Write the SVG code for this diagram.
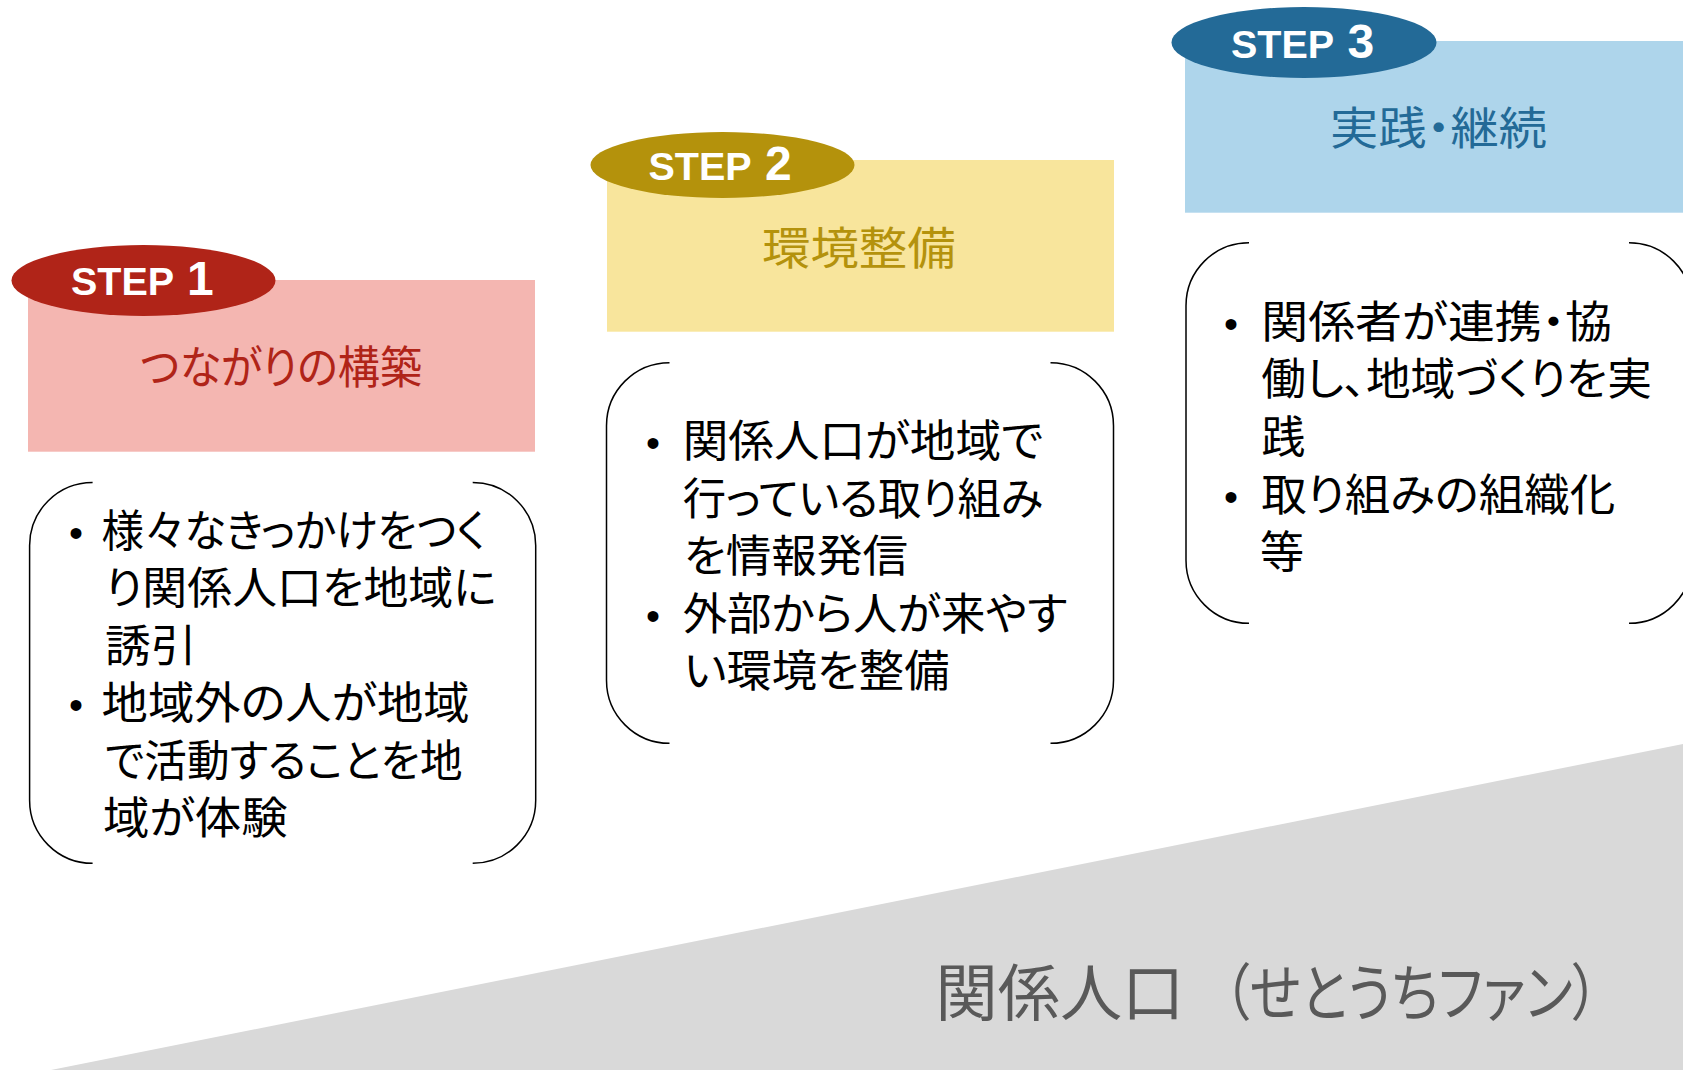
<svg xmlns="http://www.w3.org/2000/svg" width="1683" height="1070" viewBox="0 0 1683 1070">
<style>
.step{font-family:"Liberation Sans",Arial,sans-serif;font-weight:bold;font-size:39.5px;fill:#fff}
.num{font-size:48px}
.sub{font-family:"Noto Sans CJK JP",sans-serif;font-size:45px;font-feature-settings:"palt"}
.body{font-family:"Noto Sans CJK JP",sans-serif;font-size:44px;fill:#000;font-feature-settings:"palt"}
.bul{font-family:"Liberation Sans",sans-serif;font-size:40px;fill:#000;text-anchor:middle}
.br{fill:none;stroke:#000;stroke-width:1.5}
.base{font-family:"Noto Sans CJK JP",sans-serif;font-size:62px;fill:#595959;font-feature-settings:"palt"}
</style>
<rect width="1683" height="1070" fill="#fff"/>
<g id="base">
<polygon points="51,1070 1683,744 1683,1070" fill="#D9D9D9"/>
<text class="base" x="935.6" y="1016" textLength="248.7" lengthAdjust="spacingAndGlyphs">関係人口</text>
<text class="base" x="1223" y="1016" textLength="376" lengthAdjust="spacingAndGlyphs">（せとうちファン）</text>
</g>
<g id="step1">
<rect x="28" y="280" width="507" height="171.7" fill="#F4B6B1"/>
<ellipse cx="143.5" cy="280.5" rx="132" ry="35.5" fill="#B02418"/>
<text class="step" x="71" y="295">STEP<tspan class="num" x="187">1</tspan></text>
<text class="sub" x="140" y="383.5" fill="#B02418" textLength="282" lengthAdjust="spacingAndGlyphs">つながりの構築</text>
</g>
<g id="step2">
<rect x="607" y="160" width="507" height="171.7" fill="#F8E59C"/>
<ellipse cx="722.5" cy="165" rx="132" ry="33" fill="#B4920C"/>
<text class="step" x="648.5" y="180">STEP<tspan class="num" x="765">2</tspan></text>
<text class="sub" x="762" y="265" fill="#B4920C" textLength="193.7" lengthAdjust="spacingAndGlyphs">環境整備</text>
</g>
<g id="step3">
<rect x="1185" y="41" width="507" height="171.7" fill="#AED5EB"/>
<ellipse cx="1304" cy="42.5" rx="132.5" ry="35.5" fill="#236A97"/>
<text class="step" x="1231" y="58">STEP<tspan class="num" x="1347.5">3</tspan></text>
<text class="sub" x="1330" y="145" fill="#236A97" textLength="217" lengthAdjust="spacingAndGlyphs">実践・継続</text>
</g>
<g id="box1">
<path class="br" d="M92.6,482.5 A63,63 0 0 0 29.6,545.5 L29.6,800.3 A63,63 0 0 0 92.6,863.3"/>
<path class="br" d="M472.7,482.5 A63,63 0 0 1 535.7,545.5 L535.7,800.3 A63,63 0 0 1 472.7,863.3"/>
<text class="bul" x="76" y="546.5">•</text>
<text class="bul" x="76" y="719">•</text>
<text class="body" x="101.6" y="546.5" textLength="384.2" lengthAdjust="spacingAndGlyphs">様々なきっかけをつく</text>
<text class="body" x="105" y="604" textLength="391.5" lengthAdjust="spacingAndGlyphs">り関係人口を地域に</text>
<text class="body" x="105" y="661.5" textLength="91.6" lengthAdjust="spacingAndGlyphs">誘引</text>
<text class="body" x="101.6" y="719" textLength="368.1" lengthAdjust="spacingAndGlyphs">地域外の人が地域</text>
<text class="body" x="105" y="776.5" textLength="357.5" lengthAdjust="spacingAndGlyphs">で活動することを地</text>
<text class="body" x="103" y="834" textLength="184.6" lengthAdjust="spacingAndGlyphs">域が体験</text>
</g>
<g id="box2">
<path class="br" d="M669.5,362.7 A63,63 0 0 0 606.5,425.7 L606.5,680.3 A63,63 0 0 0 669.5,743.3"/>
<path class="br" d="M1050.5,362.7 A63,63 0 0 1 1113.5,425.7 L1113.5,680.3 A63,63 0 0 1 1050.5,743.3"/>
<text class="bul" x="653" y="457">•</text>
<text class="bul" x="653" y="629.5">•</text>
<text class="body" x="682.7" y="457" textLength="360.5" lengthAdjust="spacingAndGlyphs">関係人口が地域で</text>
<text class="body" x="682.7" y="514.5" textLength="360.5" lengthAdjust="spacingAndGlyphs">行っている取り組み</text>
<text class="body" x="683.7" y="572" textLength="224.4" lengthAdjust="spacingAndGlyphs">を情報発信</text>
<text class="body" x="682.7" y="629.5" textLength="384.6" lengthAdjust="spacingAndGlyphs">外部から人が来やす</text>
<text class="body" x="683.7" y="687" textLength="265.8" lengthAdjust="spacingAndGlyphs">い環境を整備</text>
</g>
<g id="box3">
<path class="br" d="M1249,242.7 A63,63 0 0 0 1186,305.7 L1186,560.3 A63,63 0 0 0 1249,623.3"/>
<path class="br" d="M1629,242.7 A63,63 0 0 1 1692,305.7 L1692,560.3 A63,63 0 0 1 1629,623.3"/>
<text class="bul" x="1231" y="338">•</text>
<text class="bul" x="1231" y="511">•</text>
<text class="body" x="1261.3" y="338" textLength="350.7" lengthAdjust="spacingAndGlyphs">関係者が連携・協</text>
<text class="body" x="1261.3" y="395" textLength="390.7" lengthAdjust="spacingAndGlyphs">働し、地域づくりを実</text>
<text class="body" x="1261.3" y="453">践</text>
<text class="body" x="1261.3" y="511" textLength="354" lengthAdjust="spacingAndGlyphs">取り組みの組織化</text>
<text class="body" x="1260" y="568">等</text>
</g>
</svg>
